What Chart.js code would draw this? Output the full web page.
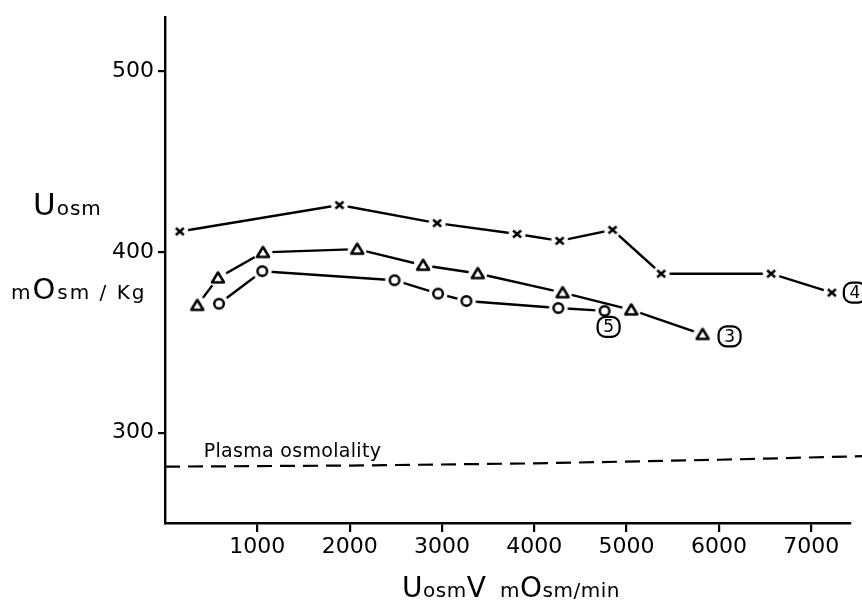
<!DOCTYPE html>
<html>
<head>
<meta charset="utf-8">
<script src="https://cdn.jsdelivr.net/npm/chart.js@4"></script>
<style>
  body { margin: 0; background: #fff; }
  #chart { display: block; }
</style>
</head>
<body>
<canvas id="chart" width="862" height="602"></canvas>
<script>
// values
const xTicks = [1000, 2000, 3000, 4000, 5000, 6000, 7000];
const yTicks = [300, 400, 500];

// experiment 4 (crosses)
const exp4X = [160, 1890, 2948, 3814, 4275, 4848, 5375, 6566, 7223];
const exp4Y = [411.4, 426, 416, 410, 406.2, 412.3, 388, 388, 377.5];
// experiment 3 (triangles)
const exp3X = [350, 574, 1061, 2082, 2796, 3388, 4307, 5051, 5823];
const exp3Y = [370.5, 385.7, 399.8, 401.6, 392.7, 388.1, 377.5, 368, 354.4];
// experiment 5 (circles)
const exp5X = [585, 1054, 2486, 2958, 3265, 4261, 4762];
const exp5Y = [371.4, 389.4, 384.4, 377, 372.9, 369, 367.4];

// plasma osmolality (dashed)
const plasmaX = [0, 2000, 4000, 6000, 7550];
const plasmaY = [281.2, 281.8, 283, 285, 287];

const seriesTags = ["4", "3", "5"];

const FONT = "'DejaVu Sans', sans-serif";

function toPoints(xs, ys) {
    return xs.map((x, i) => ({ x: x, y: ys[i] }));
}

// marker images with a white halo so the connecting lines stop short
function makeMarker(kind) {
    const c = document.createElement("canvas");
    c.width = 24;
    c.height = 24;
    const g = c.getContext("2d");
    const m = 12;
    g.fillStyle = "#fff";
    g.beginPath();
    g.arc(m, m, kind === "cross" ? 8.5 : 9.5, 0, Math.PI * 2);
    g.fill();
    g.strokeStyle = "#000";
    g.lineWidth = 2.5;
    g.lineJoin = "round";
    g.beginPath();
    if (kind === "cross") {
        g.moveTo(m - 4, m - 3.5); g.lineTo(m + 4, m + 3.5);
        g.moveTo(m + 4, m - 3.5); g.lineTo(m - 4, m + 3.5);
    } else if (kind === "tri") {
        g.moveTo(m, m - 5.5);
        g.lineTo(m + 6, m + 4.5);
        g.lineTo(m - 6, m + 4.5);
        g.closePath();
    } else {
        g.arc(m, m, 4.8, 0, Math.PI * 2);
    }
    g.stroke();
    return c;
}

function lineSet(xs, ys, marker) {
    return {
        data: toPoints(xs, ys),
        showLine: true,
        borderColor: "#000",
        borderWidth: 2.4,
        pointStyle: makeMarker(marker),
        pointRadius: 6,
        tension: 0
    };
}

// draw text made of parts in different sizes
function drawParts(ctx, parts, x, y, spacing) {
    ctx.save();
    ctx.textBaseline = "alphabetic";
    ctx.textAlign = "left";
    ctx.fillStyle = "#000";
    parts.forEach(p => {
        ctx.font = p[1] + "px " + FONT;
        ctx.letterSpacing = (spacing || 0) + "px";
        ctx.fillText(p[0], x, y);
        x += ctx.measureText(p[0]).width;
    });
    ctx.restore();
}

function circledTag(ctx, text, cx, cy) {
    ctx.save();
    ctx.strokeStyle = "#000";
    ctx.lineWidth = 2.2;
    ctx.beginPath();
    ctx.roundRect(cx - 11, cy - 10, 22, 20, 8);
    ctx.stroke();
    ctx.fillStyle = "#000";
    ctx.font = "17px " + FONT;
    ctx.textAlign = "center";
    ctx.textBaseline = "middle";
    ctx.fillText(text, cx, cy + 1);
    ctx.restore();
}

const labelsPlugin = {
    id: "labels",
    afterDraw(chart) {
        const ctx = chart.ctx;
        const xs = chart.scales.x;
        const ys = chart.scales.y;

        // axis titles
        drawParts(ctx, [["U", 31], ["osm", 20]], 33, 215, 1);
        drawParts(ctx, [["m", 20], ["O", 29], ["sm / Kg", 20]], 11, 299, 2);
        drawParts(ctx, [["U", 28], ["osm", 20], ["V", 28], ["  m", 20], ["O", 28], ["sm/min", 20]], 402, 597, 0.5);

        // plasma label
        ctx.save();
        ctx.fillStyle = "#000";
        ctx.font = "19px " + FONT;
        ctx.letterSpacing = "0.3px";
        ctx.textBaseline = "alphabetic";
        ctx.fillText("Plasma osmolality", xs.getPixelForValue(420), ys.getPixelForValue(286.6));
        ctx.restore();

        // circled experiment numbers next to the last points
        const last = (a) => a[a.length - 1];
        circledTag(ctx, seriesTags[0], xs.getPixelForValue(last(exp4X)) + 23, ys.getPixelForValue(last(exp4Y)));
        circledTag(ctx, seriesTags[1], xs.getPixelForValue(last(exp3X)) + 27, ys.getPixelForValue(last(exp3Y)) + 2);
        circledTag(ctx, seriesTags[2], xs.getPixelForValue(last(exp5X)) + 4, ys.getPixelForValue(last(exp5Y)) + 16);
    }
};

new Chart(document.getElementById("chart"), {
    type: "scatter",
    data: {
        datasets: [
            {
                data: toPoints(plasmaX, plasmaY),
                showLine: true,
                borderColor: "#000",
                borderWidth: 2.2,
                borderDash: [15, 8],
                pointRadius: 0,
                clip: false
            },
            lineSet(exp4X, exp4Y, "cross"),
            lineSet(exp3X, exp3Y, "tri"),
            lineSet(exp5X, exp5Y, "circle")
        ]
    },
    options: {
        responsive: false,
        animation: false,
        layout: { padding: { top: 12, right: 12, left: 0, bottom: 0 } },
        plugins: {
            legend: { display: false },
            tooltip: { enabled: false }
        },
        scales: {
            x: {
                type: "linear",
                min: 0,
                max: 7420,
                afterFit(scale) { scale.height = 79; },
                afterBuildTicks(scale) { scale.ticks = xTicks.map(v => ({ value: v })); },
                grid: { drawOnChartArea: false, drawTicks: true, tickLength: 9, color: "#000", lineWidth: 2.2 },
                border: { display: true, color: "#000", width: 2.4 },
                ticks: {
                    color: "#000",
                    font: { family: FONT, size: 22 },
                    padding: 2,
                    maxRotation: 0,
                    autoSkip: false,
                    callback: v => String(v)
                }
            },
            y: {
                type: "linear",
                min: 250,
                max: 530,
                afterFit(scale) { scale.width = 165; },
                afterBuildTicks(scale) { scale.ticks = yTicks.map(v => ({ value: v })); },
                grid: { drawOnChartArea: false, drawTicks: true, tickLength: 7, color: "#000", lineWidth: 2.2 },
                border: { display: true, color: "#000", width: 2.4 },
                ticks: {
                    color: "#000",
                    font: { family: FONT, size: 22 },
                    padding: 4,
                    autoSkip: false,
                    callback: v => String(v)
                }
            }
        }
    },
    plugins: [labelsPlugin]
});
</script>
</body>
</html>
